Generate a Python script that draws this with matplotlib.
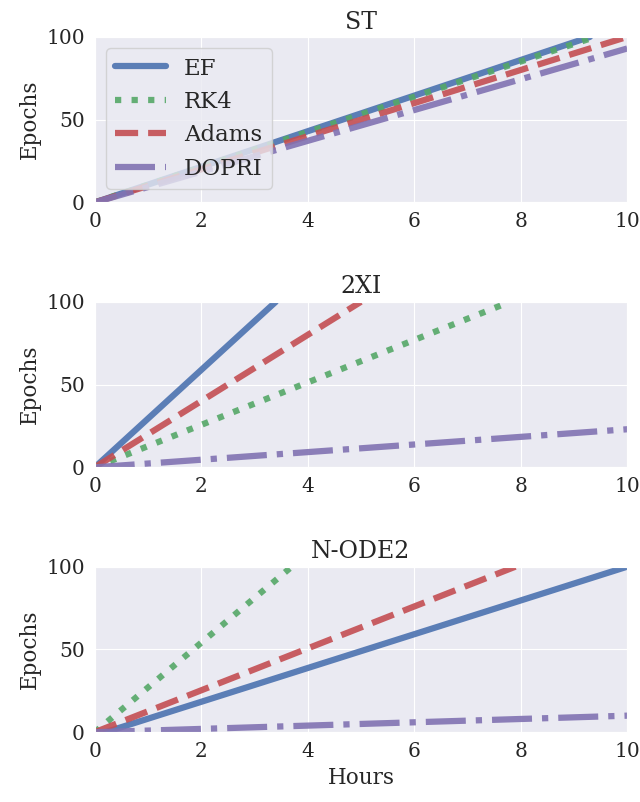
import matplotlib
matplotlib.use("Agg")
import matplotlib.pyplot as plt
import seaborn as sns

sns.set_style("darkgrid", {"grid.linewidth": 1.6})
plt.rcParams['font.family'] = ['DejaVu Serif']

methods = ["EF", "RK4", "Adams", "DOPRI"]
styles = ["-", ":", "--", "-."]
colors = ["#4c72b0", "#55a868", "#c44e52", "#8172b2"]
titles = ["ST", "2XI", "N-ODE2"]

# (hours, epochs) pairs per dataset per method
hours = {
    "ST": [[0, 9.3], [0, 9.4], [0, 10], [0, 10]],
    "2XI": [[0, 3.4], [0, 7.8], [0, 5.0], [0, 10]],
    "N-ODE2": [[0.2, 10], [0, 3.7], [0, 7.9], [0, 10]],
}
epochs = {
    "ST": [[0, 100], [0, 100], [0, 100], [0, 93]],
    "2XI": [[0, 100], [0, 100], [0, 100], [0, 23]],
    "N-ODE2": [[0, 100], [0, 100], [0, 100], [0, 10]],
}

fig, axes = plt.subplots(3, 1, figsize=(6.4, 8.02), dpi=100)
for ax, t in zip(axes, titles):
    for i, m in enumerate(methods):
        ax.plot(hours[t][i], epochs[t][i], linestyle=styles[i], color=colors[i],
                linewidth=4.5, alpha=0.9, label=m)
    ax.set_xlim(0, 10)
    ax.set_ylim(0, 100)
    ax.set_xticks([0, 2, 4, 6, 8, 10])
    ax.set_yticks([0, 50, 100])
    ax.tick_params(labelsize=14.5)
    ax.set_title(t, fontsize=17)
    ax.set_ylabel("Epochs", fontsize=15.5)
axes[2].set_xlabel("Hours", fontsize=15.5)
axes[0].legend(loc="upper left", fontsize=16.5, handlelength=2.2, labelspacing=0.5)

plt.subplots_adjust(left=0.148, right=0.98, top=0.954, bottom=0.087, hspace=0.6)
plt.savefig("out.png")
